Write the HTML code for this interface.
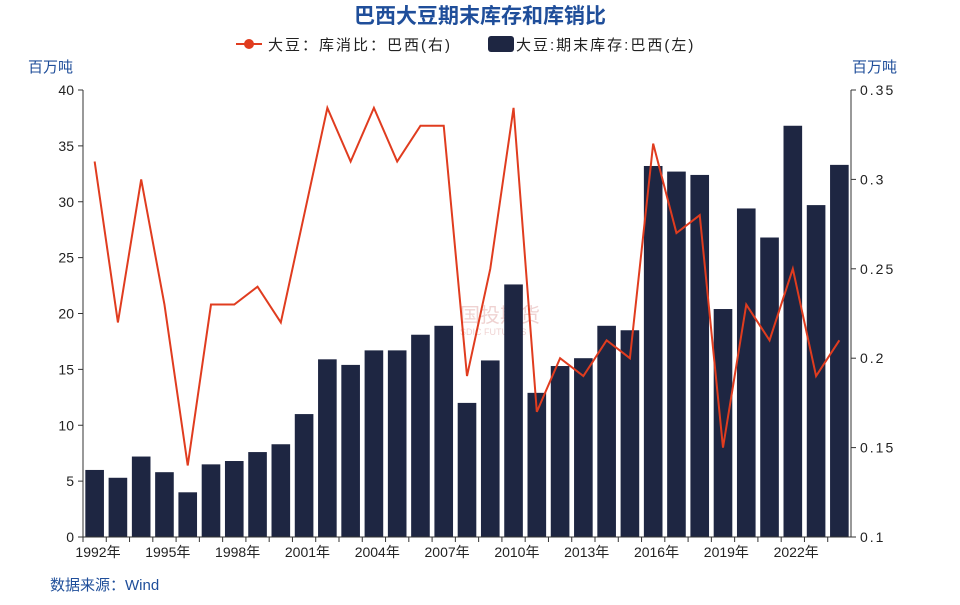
<!DOCTYPE html>
<html><head><meta charset="utf-8"><style>
body{margin:0;background:#fff;width:960px;height:600px;overflow:hidden;font-family:"Liberation Sans","Noto Sans CJK SC",sans-serif}
svg text{font-family:"Liberation Sans","Noto Sans CJK SC",sans-serif}
</style></head><body>
<svg id="c" width="960" height="600">
<text x="480" y="23" text-anchor="middle" font-size="21" font-weight="bold" fill="#1f4e9a">巴西大豆期末库存和库销比</text>
<g>
<g><line x1="236" y1="44" x2="262" y2="44" stroke="#e03c1f" stroke-width="2"/><circle cx="249" cy="44" r="5" fill="#e03c1f"/><text x="268" y="50" font-size="15" fill="#222" letter-spacing="2">大豆：库消比：巴西(右)</text></g>
<g><rect x="488" y="36" width="26" height="16" rx="3" fill="#1e2642"/><text x="516" y="50" font-size="15" fill="#222" letter-spacing="2">大豆:期末库存:巴西(左)</text></g>
</g>
<text x="28" y="72" font-size="15" fill="#1f4e9a">百万吨</text>
<text x="852" y="72" font-size="15" fill="#1f4e9a">百万吨</text>
<g opacity="0.25"><text x="460" y="322" font-size="20" fill="#c0504d">国投期货</text><text x="460" y="335" font-size="9" fill="#c0504d">SDIC FUTURES</text></g>
<g id="plot"></g>
<text x="50" y="590" font-size="15" fill="#1f4e9a">数据来源：Wind</text>
</svg>
<script>
const years=[1992,1993,1994,1995,1996,1997,1998,1999,2000,2001,2002,2003,2004,2005,2006,2007,2008,2009,2010,2011,2012,2013,2014,2015,2016,2017,2018,2019,2020,2021,2022,2023,2024];
const stocks=[6.0,5.3,7.2,5.8,4.0,6.5,6.8,7.6,8.3,11.0,15.9,15.4,16.7,16.7,18.1,18.9,12.0,15.8,22.6,12.9,15.3,16.0,18.9,18.5,33.2,32.7,32.4,20.4,29.4,26.8,36.8,29.7,33.3];
const ratios=[0.31,0.22,0.30,0.23,0.14,0.23,0.23,0.24,0.22,0.28,0.34,0.31,0.34,0.31,0.33,0.33,0.19,0.25,0.34,0.17,0.20,0.19,0.21,0.20,0.32,0.27,0.28,0.15,0.23,0.21,0.25,0.19,0.21];
const leftTicks=[0,5,10,15,20,25,30,35,40];
const rightTicks=[0.1,0.15,0.2,0.25,0.3,0.35];
const rightLabels=["0.1","0.15","0.2","0.25","0.3","0.35"];
const L=83,R=851,T=90,B=537,NS="http://www.w3.org/2000/svg";
const step=(R-L)/years.length;
const xc=i=>L+(i+0.5)*step;
const yl=v=>B-v/40*(B-T);
const yr=v=>B-(v-0.1)/0.25*(B-T);
const g=document.getElementById('plot');
function el(t,a){const e=document.createElementNS(NS,t);for(const k in a)e.setAttribute(k,a[k]);g.appendChild(e);return e;}
stocks.forEach((v,i)=>{const r=el('rect',{x:xc(i)-step*0.4,y:yl(v),width:step*0.8,height:B-yl(v),fill:'#1e2642'});

});
const p=el('polyline',{points:ratios.map((v,i)=>xc(i)+','+yr(v)).join(' '),fill:'none',stroke:'#e03c1f','stroke-width':2});


const a1=el('line',{x1:L,y1:T,x2:L,y2:B,stroke:'#333'});
const a2=el('line',{x1:R,y1:T,x2:R,y2:B,stroke:'#333'});
const a3=el('line',{x1:L,y1:B,x2:R,y2:B,stroke:'#333'});
leftTicks.forEach(v=>{el('line',{x1:L-5,y1:yl(v),x2:L,y2:yl(v),stroke:'#333'});const t=el('text',{x:L-9,y:yl(v)+5,'text-anchor':'end','font-size':14,fill:'#222'});t.textContent=v;

});
rightTicks.forEach((v,i)=>{el('line',{x1:R,y1:yr(v),x2:R+5,y2:yr(v),stroke:'#333'});const t=el('text',{x:R+9,y:yr(v)+5,'font-size':14,fill:'#222','letter-spacing':'2'});t.textContent=rightLabels[i];

});
years.forEach((y,i)=>{el('line',{x1:L+i*step,y1:B,x2:L+i*step,y2:B+5,stroke:'#333'});if(i%3===0){const t=el('text',{x:L+i*step+15,y:B+20,'text-anchor':'middle','font-size':14,fill:'#222'});t.textContent=y+'年';

}});
</script>
</body></html>
